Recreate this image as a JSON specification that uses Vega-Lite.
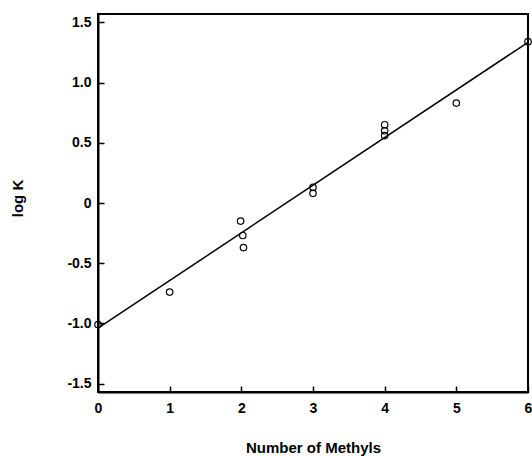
{
  "$schema": "https://vega.github.io/schema/vega-lite/v6.json",
  "width": 430,
  "height": 378,
  "autosize": "none",
  "padding": {"left": 98, "top": 14, "right": 4, "bottom": 64},
  "background": "white",
  "config": {
    "view": {"stroke": "black", "strokeWidth": 2},
    "font": "Liberation Sans",
    "axis": {
      "domainColor": "black",
      "domainWidth": 2,
      "tickColor": "black",
      "tickWidth": 1.5,
      "tickSize": -6,
      "grid": false,
      "labelFont": "Liberation Sans",
      "labelFontSize": 14,
      "labelFontWeight": "bold",
      "labelColor": "black",
      "labelFlush": false,
      "titleFont": "Liberation Sans",
      "titleFontSize": 15,
      "titleFontWeight": "bold",
      "titleColor": "black"
    }
  },
  "encoding": {
    "x": {
      "field": "methyls",
      "type": "quantitative",
      "scale": {"domain": [0, 6], "nice": false, "zero": false},
      "axis": {
        "values": [0, 1, 2, 3, 4, 5, 6],
        "format": "d",
        "labelPadding": 15,
        "title": "Number of Methyls",
        "titleBaseline": "alphabetic",
        "titleY": 60
      }
    },
    "y": {
      "field": "logK",
      "type": "quantitative",
      "scale": {"domain": [-1.57, 1.57], "nice": false, "zero": false},
      "axis": {
        "values": [-1.5, -1, -0.5, 0, 0.5, 1, 1.5],
        "labelExpr": "datum.value == 0 ? '0' : replace(format(datum.value, '.1f'), '\u2212', '-')",
        "labelPadding": 13,
        "title": "log K",
        "titleX": -81,
        "titleY": 184,
        "titleAngle": -90,
        "titleAlign": "center",
        "titleBaseline": "middle"
      }
    }
  },
  "layer": [
    {
      "data": {"values": [
        {"methyls": 0, "logK": -1.04},
        {"methyls": 6, "logK": 1.335}
      ]},
      "mark": {"type": "line", "color": "black", "strokeWidth": 1.5}
    },
    {
      "data": {"values": [
        {"methyls": 0, "logK": -1.01},
        {"methyls": 1, "logK": -0.74},
        {"methyls": 1.99, "logK": -0.15},
        {"methyls": 2.02, "logK": -0.27},
        {"methyls": 2.03, "logK": -0.37},
        {"methyls": 3, "logK": 0.13},
        {"methyls": 3, "logK": 0.08},
        {"methyls": 4, "logK": 0.65},
        {"methyls": 4, "logK": 0.6},
        {"methyls": 4, "logK": 0.56},
        {"methyls": 5, "logK": 0.83},
        {"methyls": 6, "logK": 1.34}
      ]},
      "mark": {"type": "point", "shape": "circle", "filled": false, "color": "black", "size": 42, "strokeWidth": 1.2, "opacity": 1}
    }
  ]
}
